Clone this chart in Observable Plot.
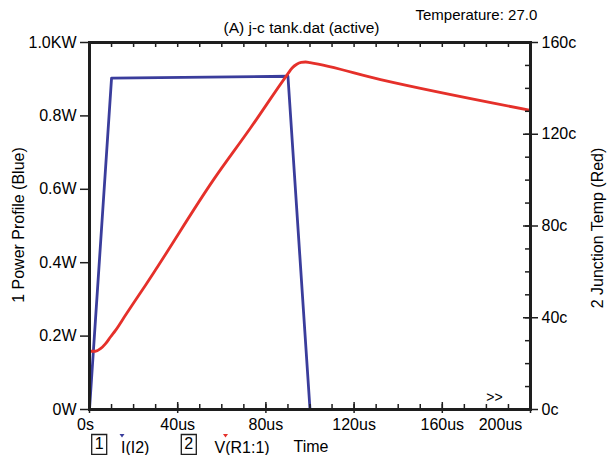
<!DOCTYPE html>
<html><head><meta charset="utf-8">
<script src="https://cdn.jsdelivr.net/npm/d3@7"></script>
<script src="https://cdn.jsdelivr.net/npm/@observablehq/plot@0.6"></script>
<style>
body{margin:0;background:#fff}
svg{font-family:"Liberation Sans",Arial,Helvetica,sans-serif}
</style>
</head><body><div id="chart"></div>
<script>
// ---- data (time in us) ----
const powerTime  = [0, 10, 90, 100];
const powerValue = [0, 0.903, 0.908, 0];           // left axis (KW)
const tempTime  = [0, 2.7, 5.0, 7.3, 9.5, 11.8, 16.3, 20.9, 25.4, 29.9, 56.2, 73.0, 89.7, 91.9, 94, 96, 98, 100, 132, 200];
const tempValue = [25.4, 25.4, 26.5, 28.7, 31.6, 34.5, 41.1, 47.7, 54.2, 60.8, 100.1, 122.7, 146.0, 148.9, 150.5, 151.3, 151.5, 151.2, 143.8, 130.4]; // right axis (c)
const xTicks = [0, 40, 80, 120, 160, 200];
const xTickLabels = ["0s", "40us", "80us", "120us", "160us", "200us"];
const xMinorTicks = [0,10,20,30,40,50,60,70,80,90,100,110,120,130,140,150,160,170,180,190,200];
const leftTicks = [0, 0.2, 0.4, 0.6, 0.8, 1.0];
const leftTickLabels = ["0W", "0.2W", "0.4W", "0.6W", "0.8W", "1.0KW"];
const rightTicks = [0, 40, 80, 120, 160];
const rightTickLabels = ["0c", "40c", "80c", "120c", "160c"];
const rightMinorTicks = [0,10,20,30,40,50,60,70,80,90,100,110,120,130,140,150,160];
const rightMax = 160;
const titleText = "(A) j-c tank.dat (active)";
const tempText = "Temperature: 27.0";
const leftTitle = "1 Power Profile (Blue)";
const rightTitle = "2 Junction Temp (Red)";
const legendNums = ["1", "2"];
const legendNames = ["I(I2)", "V(R1:1)"];
const xName = "Time";

const power = powerTime.map((t, i) => ({t, v: powerValue[i]}));
const temp = tempTime.map((t, i) => ({t, v: tempValue[i]}));

const W = 607, H = 455, mL = 89, mR = 77, mT = 42, mB = 46;
const fw = W - mL - mR, fh = H - mT - mB;
const BLUE = "#3a3d9c", RED = "#e5302a", INK = "#1e1e1e";
const FS = 16;
const C = {textAnchor: "middle", lineAnchor: "middle"};

const boxSymbol = {draw(ctx) { ctx.rect(-7.5, -10, 15, 20); }};
const downTri = {draw(ctx) { ctx.moveTo(-2.5, -1.5); ctx.lineTo(2.5, -1.5); ctx.lineTo(0, 2); ctx.closePath(); }};

const chart = Plot.plot({
  width: W, height: H,
  marginLeft: mL, marginRight: mR, marginTop: mT, marginBottom: mB,
  x: {domain: [0, 200], axis: null},
  y: {domain: [0, 1], axis: null},
  style: {fontFamily: "Liberation Sans, Arial, sans-serif", fontSize: FS + "px", background: "#fff", overflow: "visible"},
  marks: [
    Plot.line(power, {x: "t", y: "v", stroke: BLUE, strokeWidth: 2.8}),
    Plot.line(temp, {x: "t", y: d => d.v / rightMax, stroke: RED, strokeWidth: 2.8, curve: "monotone-x"}),
    // ticks
    Plot.tickX(xMinorTicks, {x: d => d, insetBottom: fh - 5, stroke: INK, strokeWidth: 1.5}),
    Plot.tickX(xMinorTicks, {x: d => d, insetTop: fh - 5, stroke: INK, strokeWidth: 1.5}),
    Plot.tickX(xTicks, {x: d => d, insetTop: fh - 7, insetBottom: -4, stroke: INK, strokeWidth: 1.5}),
    Plot.tickY(leftTicks, {y: d => d, insetLeft: -9, insetRight: fw, stroke: INK, strokeWidth: 1.5}),
    Plot.tickY(rightMinorTicks, {y: d => d / rightMax, insetLeft: fw - 5, stroke: INK, strokeWidth: 1.5}),
    Plot.tickY(rightTicks, {y: d => d / rightMax, insetLeft: fw - 7, insetRight: -8, stroke: INK, strokeWidth: 1.5}),
    Plot.frame({stroke: INK, strokeWidth: 3}),
    // tick labels
    Plot.text(xTickLabels.slice(0, 1), {x: (d, i) => xTicks[i], frameAnchor: "bottom", dy: 15, dx: -4, fontSize: FS, ...C}),
    Plot.text(xTickLabels.slice(1, 5), {x: (d, i) => xTicks[1 + i], frameAnchor: "bottom", dy: 15, fontSize: FS, ...C}),
    Plot.text(xTickLabels.slice(5), {x: (d, i) => xTicks[5 + i], frameAnchor: "bottom", dy: 15, dx: -30, fontSize: FS, ...C}),
    Plot.text(leftTickLabels, {y: (d, i) => leftTicks[i], frameAnchor: "left", dx: -13, textAnchor: "end", lineAnchor: "middle", fontSize: FS}),
    Plot.text(rightTickLabels, {y: (d, i) => rightTicks[i] / rightMax, frameAnchor: "right", dx: 11, textAnchor: "start", lineAnchor: "middle", fontSize: FS}),
    // titles
    Plot.text([leftTitle], {frameAnchor: "left", rotate: -90, dx: -71, dy: -1, fontSize: 16, ...C}),
    Plot.text([rightTitle], {frameAnchor: "right", rotate: -90, dx: 67, dy: 2, fontSize: 16, ...C}),
    Plot.text([titleText], {frameAnchor: "top", dx: -8.5, dy: -14, fontSize: 15.5, ...C}),
    Plot.text([tempText], {frameAnchor: "top-right", dx: -115, dy: -27, textAnchor: "start", lineAnchor: "middle", fontSize: 15}),
    Plot.text([">>"], {frameAnchor: "bottom-right", dx: -36, dy: -12, fontSize: 14, ...C}),
    // legend
    Plot.dot([0], {frameAnchor: "bottom-left", dx: 9.7, dy: 35, symbol: boxSymbol, stroke: INK, fill: "none", strokeWidth: 1.3}),
    Plot.dot([0], {frameAnchor: "bottom-left", dx: 99.3, dy: 35, symbol: boxSymbol, stroke: INK, fill: "none", strokeWidth: 1.3}),
    Plot.text([legendNums[0]], {frameAnchor: "bottom-left", dx: 9.7, dy: 34, fontSize: FS, ...C}),
    Plot.text([legendNums[1]], {frameAnchor: "bottom-left", dx: 99.3, dy: 34, fontSize: FS, ...C}),
    Plot.text([legendNames[0]], {frameAnchor: "bottom-left", dx: 31.5, dy: 38, textAnchor: "start", lineAnchor: "middle", fontSize: FS}),
    Plot.text([legendNames[1]], {frameAnchor: "bottom-left", dx: 125, dy: 38, textAnchor: "start", lineAnchor: "middle", fontSize: FS}),
    Plot.text([xName], {frameAnchor: "bottom-left", dx: 204, dy: 37, textAnchor: "start", lineAnchor: "middle", fontSize: FS}),
    Plot.dot([0], {frameAnchor: "bottom-left", dx: 32.5, dy: 26, symbol: downTri, fill: BLUE, stroke: "none"}),
    Plot.dot([0], {frameAnchor: "bottom-left", dx: 136, dy: 26, symbol: downTri, fill: RED, stroke: "none"})
  ]
});
document.getElementById("chart").appendChild(chart);
</script>
</body></html>
